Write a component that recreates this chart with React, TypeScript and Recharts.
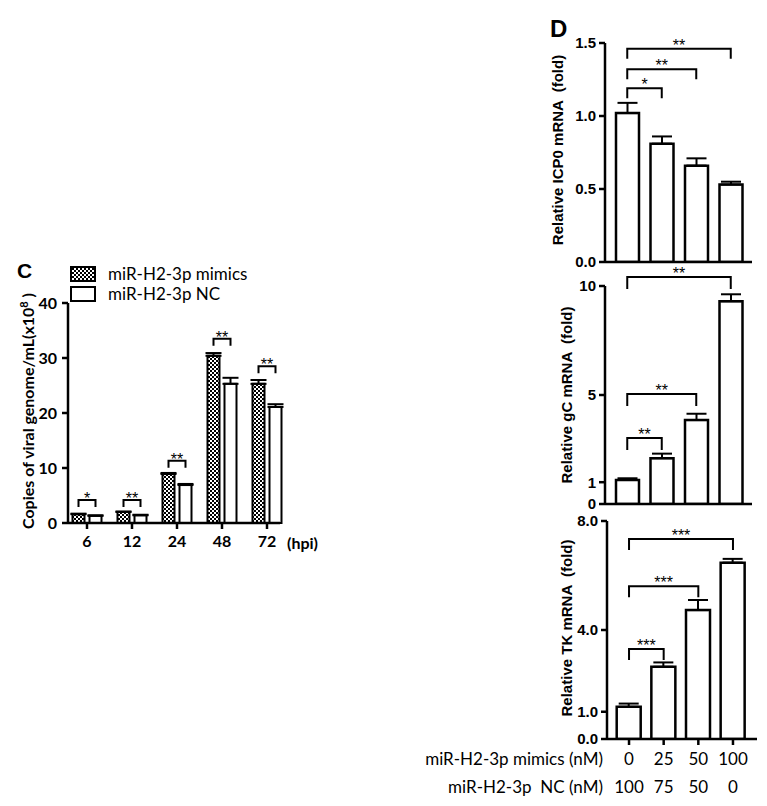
import { BarChart, Bar, XAxis, YAxis, ErrorBar, ReferenceLine } from 'recharts'

// panel C: viral genome copies over time
const hpi = ['6', '12', '24', '48', '72']
const mimicsCopies = [1.6, 2.0, 8.9, 30.4, 25.3]
const mimicsCopiesErr = [0.1, 0.1, 0.2, 0.5, 0.7]
const ncCopies = [1.3, 1.4, 6.9, 25.3, 21.1]
const ncCopiesErr = [0.1, 0.1, 0.2, 1.1, 0.5]
const cSigMark = ['*', '**', '**', '**', '**']
const cSigLevel = [4.2, 4.2, 11.3, 33.5, 28.5]
const cTicks = [0, 10, 20, 30, 40]
const seriesNames = ['miR-H2-3p mimics', 'miR-H2-3p NC']

// panel D: relative mRNA vs dose
const mimicsNM = ['0', '25', '50', '100']
const ncNM = ['100', '75', '50', '0']
const icp0 = [1.02, 0.81, 0.66, 0.53]
const icp0Err = [0.07, 0.05, 0.05, 0.02]
const gc = [1.1, 2.1, 3.85, 9.3]
const gcErr = [0.08, 0.21, 0.29, 0.32]
const tk = [1.18, 2.65, 4.73, 6.47]
const tkErr = [0.12, 0.16, 0.37, 0.14]

const icp0Ticks = [0, 0.5, 1.0, 1.5]
const gcTicks = [0, 1, 5, 10]
const tkTicks = [0, 1, 4, 8]

const icp0SigTo = ['25', '50', '100']
const icp0SigLevel = [1.19, 1.32, 1.46]
const icp0SigMark = ['*', '**', '**']
const gcSigTo = ['25', '50', '100']
const gcSigLevel = [3.03, 5.05, 10.41]
const gcSigMark = ['**', '**', '**']
const tkSigTo = ['25', '50', '100']
const tkSigLevel = [3.3, 5.61, 7.34]
const tkSigMark = ['***', '***', '***']

const cData = hpi.map((h, i) => ({
  hpi: h,
  mimics: mimicsCopies[i],
  mimicsErr: [0, mimicsCopiesErr[i]],
  nc: ncCopies[i],
  ncErr: [0, ncCopiesErr[i]],
}))

const makeD = (vals: number[], errs: number[]) =>
  mimicsNM.map((m, i) => ({ dose: m, value: vals[i], err: [0, errs[i]] }))

const CAL = 'Lato, "Open Sans", sans-serif'
const ARIAL = '"Liberation Sans", Arial, sans-serif'
const tickC = { fontFamily: CAL, fontWeight: 700, fontSize: 16, fill: '#000' }
const tickD = { fontFamily: ARIAL, fontWeight: 700, fontSize: 15, fill: '#000' }
const axisLine = { stroke: '#000', strokeWidth: 2.5 }
const tickLine = { stroke: '#000', strokeWidth: 2.5 }

// bracket with a star mark, drawn from the reference line's end points
function bracket(mark: string, legLen: number, halfSpan = 0, starDy = 2) {
  return (p: any) => {
    const x1 = p.x1 - halfSpan
    const x2 = p.x2 + halfSpan
    const y = p.y1
    return (
      <g>
        <path d={`M${x1},${y + legLen}V${y}H${x2}V${y + legLen}`} fill="none" stroke="#000" strokeWidth={2} />
        <text x={(x1 + x2) / 2} y={y + starDy} textAnchor="middle" fontSize={16} fontFamily={ARIAL} fill="#000">
          {mark}
        </text>
      </g>
    )
  }
}

function PanelC() {
  const barSize = 12
  const barGap = 5
  return (
    <div style={{ position: 'absolute', left: 0, top: 280 }}>
      <BarChart width={340} height={290} data={cData} margin={{ top: 23, right: 60, bottom: 17, left: 0 }} barSize={barSize} barGap={barGap}>
        <XAxis dataKey="hpi" height={30} padding={{ left: -3.5, right: -9.5 }} axisLine={axisLine} tickLine={tickLine} tickSize={6} tickMargin={7} tick={tickC} interval={0} />
        <YAxis width={68} domain={[0, 40]} ticks={cTicks} axisLine={axisLine} tickLine={tickLine} tickSize={6} tickMargin={5} tick={tickC} interval={0} />
        <Bar dataKey="mimics" name={seriesNames[0]} fill="url(#checker)" stroke="#000" strokeWidth={2} isAnimationActive={false}>
          <ErrorBar dataKey="mimicsErr" width={8} stroke="#000" strokeWidth={2} direction="y" isAnimationActive={false} />
        </Bar>
        <Bar dataKey="nc" name={seriesNames[1]} fill="#fff" stroke="#000" strokeWidth={2} isAnimationActive={false}>
          <ErrorBar dataKey="ncErr" width={8} stroke="#000" strokeWidth={2} direction="y" isAnimationActive={false} />
        </Bar>
        {hpi.map((h, i) => (
          <ReferenceLine
            key={h}
            segment={[{ x: h, y: cSigLevel[i] }, { x: h, y: cSigLevel[i] }]}
            ifOverflow="visible"
            shape={bracket(cSigMark[i], 7, (barSize + barGap) / 2, 4)}
          />
        ))}
      </BarChart>
    </div>
  )
}

function DoseTick(props: any) {
  const { x, y, payload } = props
  const i = payload.index ?? props.index
  return (
    <g>
      <text x={x} y={y + 18} textAnchor="middle" fontFamily={CAL} fontSize={17} fill="#000">{payload.value}</text>
      <text x={x} y={y + 46} textAnchor="middle" fontFamily={CAL} fontSize={17} fill="#000">{ncNM[i]}</text>
    </g>
  )
}

type DProps = {
  left: number
  top: number
  plotWidth: number
  plotHeight: number
  rightMargin: number
  xHeight: number
  pad: { left: number; right: number }
  data: any[]
  domain: [number, number]
  ticks: number[]
  fmt: (v: number) => string
  sigTo: string[]
  sigLevel: number[]
  sigMark: string[]
  legLen: number
  barSize: number
  doseTicks?: boolean
}

function PanelD(p: DProps) {
  const width = 45 + p.plotWidth + p.rightMargin
  const height = 23 + p.plotHeight + p.xHeight
  return (
    <div style={{ position: 'absolute', left: p.left, top: p.top }}>
      <BarChart width={width} height={height} data={p.data} margin={{ top: 23, right: p.rightMargin, bottom: 0, left: 0 }} barSize={p.barSize}>
        <XAxis
          dataKey="dose"
          height={p.xHeight}
          padding={p.pad}
          axisLine={axisLine}
          tickLine={tickLine}
          tickSize={6}
          tickMargin={2}
          interval={0}
          tick={p.doseTicks ? <DoseTick /> : false}
        />
        <YAxis width={45} domain={p.domain} ticks={p.ticks} tickFormatter={p.fmt} axisLine={axisLine} tickLine={tickLine} tickSize={6} tickMargin={3} tick={tickD} interval={0} allowDataOverflow />
        <Bar dataKey="value" fill="#fff" stroke="#000" strokeWidth={2.5} isAnimationActive={false}>
          <ErrorBar dataKey="err" width={10} stroke="#000" strokeWidth={2} direction="y" isAnimationActive={false} />
        </Bar>
        {p.sigTo.map((to, i) => (
          <ReferenceLine
            key={to}
            segment={[{ x: mimicsNM[0], y: p.sigLevel[i] }, { x: to, y: p.sigLevel[i] }]}
            ifOverflow="visible"
            shape={bracket(p.sigMark[i], p.legLen)}
          />
        ))}
      </BarChart>
    </div>
  )
}

const pre = { whiteSpace: 'pre' as const }

export default function App() {
  return (
    <div style={{ position: 'absolute', left: 0, top: 0, width: 767, height: 806, background: '#fff', overflow: 'hidden' }}>
      <PanelC />
      <PanelD left={560} top={20} plotWidth={147} plotHeight={219} rightMargin={15} xHeight={10} pad={{ left: 5, right: 4 }}
        data={makeD(icp0, icp0Err)} domain={[0, 1.5]} ticks={icp0Ticks} fmt={(v) => v.toFixed(1)}
        sigTo={icp0SigTo} sigLevel={icp0SigLevel} sigMark={icp0SigMark} legLen={10} barSize={23} />
      <PanelD left={560} top={263} plotWidth={147} plotHeight={218} rightMargin={15} xHeight={10} pad={{ left: 5, right: 4 }}
        data={makeD(gc, gcErr)} domain={[0, 10]} ticks={gcTicks} fmt={(v) => String(v)}
        sigTo={gcSigTo} sigLevel={gcSigLevel} sigMark={gcSigMark} legLen={12} barSize={23} />
      <PanelD left={562} top={498} plotWidth={150} plotHeight={218} rightMargin={10} xHeight={60} pad={{ left: 4.7, right: 6.7 }}
        data={makeD(tk, tkErr)} domain={[0, 8]} ticks={tkTicks} fmt={(v) => v.toFixed(1)}
        sigTo={tkSigTo} sigLevel={tkSigLevel} sigMark={tkSigMark} legLen={11} barSize={24} doseTicks />

      <svg width={767} height={806} style={{ position: 'absolute', left: 0, top: 0, pointerEvents: 'none' }}>
        <defs>
          <pattern id="checker" width={4} height={4} patternUnits="userSpaceOnUse">
            <rect width={4} height={4} fill="#fff" />
            <rect x={0} y={0} width={2} height={2} fill="#000" />
            <rect x={2} y={2} width={2} height={2} fill="#000" />
          </pattern>
        </defs>

        <text x={17} y={278} fontFamily={ARIAL} fontWeight={700} fontSize={21}>C</text>
        <rect x={71} y={267} width={24} height={14} fill="url(#checker)" stroke="#000" strokeWidth={2} />
        <rect x={71} y={287} width={24} height={14} fill="#fff" stroke="#000" strokeWidth={2} />
        <text x={108} y={280} fontFamily={CAL} fontSize={17}>{seriesNames[0]}</text>
        <text x={108} y={300} fontFamily={CAL} fontSize={17}>{seriesNames[1]}</text>
        <text transform="translate(34,411) rotate(-90)" textAnchor="middle" fontFamily={CAL} fontWeight={700} fontSize={16}>
          Copies of viral genome/mL(x10<tspan dy={-6} fontSize={11}>8</tspan><tspan dy={6} style={pre}> )</tspan>
        </text>
        <text x={287} y={549} fontFamily={CAL} fontWeight={700} fontSize={16}>(hpi)</text>

        <text x={550} y={37} fontFamily={ARIAL} fontWeight={700} fontSize={24}>D</text>
        <text transform="translate(563,150) rotate(-90)" textAnchor="middle" fontFamily={ARIAL} fontWeight={700} fontSize={15} style={pre}>Relative ICP0 mRNA  (fold)</text>
        <text transform="translate(572,395) rotate(-90)" textAnchor="middle" fontFamily={ARIAL} fontWeight={700} fontSize={15} style={pre}>Relative gC mRNA  (fold)</text>
        <text transform="translate(572,628) rotate(-90)" textAnchor="middle" fontFamily={ARIAL} fontWeight={700} fontSize={15} style={pre}>Relative TK mRNA  (fold)</text>

        <text x={603} y={765} textAnchor="end" fontFamily={CAL} fontSize={17}>miR-H2-3p mimics (nM)</text>
        <text x={603} y={793} textAnchor="end" fontFamily={CAL} fontSize={17} style={pre}>miR-H2-3p  NC (nM)</text>
      </svg>
    </div>
  )
}
